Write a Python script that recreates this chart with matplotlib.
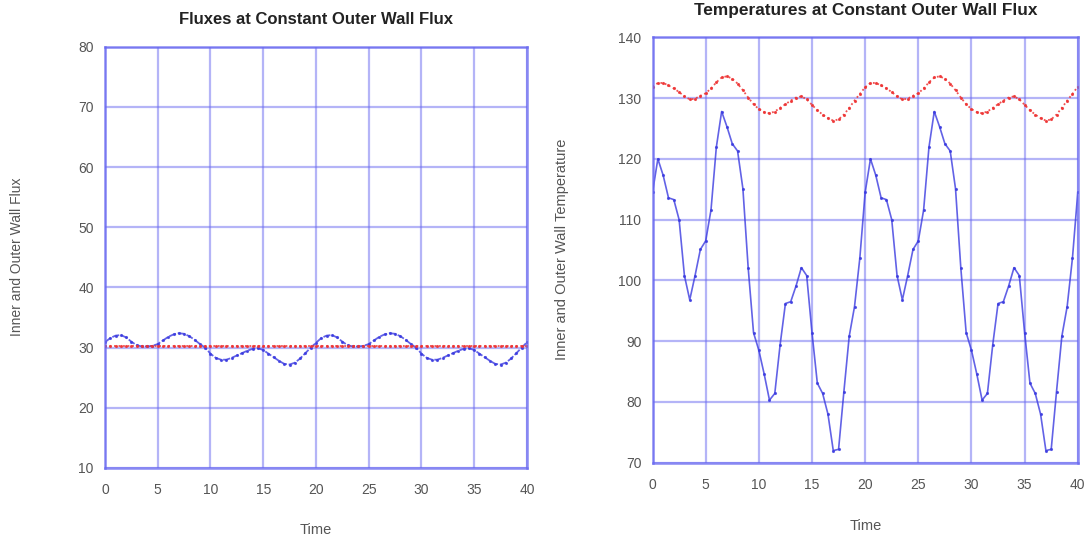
import matplotlib
matplotlib.use("Agg")
import matplotlib.pyplot as plt

# time grid (every half unit, 0..40)
time = [i * 0.5 for i in range(81)]

# left panel: inner wall flux (blue) and outer wall flux (red, constant)
inner_flux = [30.9, 31.6, 32.0, 32.1, 31.7, 31.0, 30.4, 30.2, 30.2, 30.3,
              30.6, 31.2, 31.8, 32.2, 32.4, 32.3, 31.9, 31.3, 30.6, 30.0,
              29.0, 28.3, 28.0, 28.0, 28.3, 28.7, 29.1, 29.5, 29.8, 29.9,
              29.6, 29.0, 28.4, 27.8, 27.3, 27.2, 27.5, 28.2, 29.1, 30.0,
              30.8, 31.6, 32.0, 32.1, 31.7, 31.0, 30.4, 30.2, 30.2, 30.3,
              30.6, 31.2, 31.8, 32.2, 32.4, 32.3, 31.9, 31.3, 30.6, 30.0,
              29.0, 28.3, 28.0, 28.0, 28.3, 28.7, 29.1, 29.5, 29.8, 29.9,
              29.6, 29.0, 28.4, 27.8, 27.3, 27.2, 27.5, 28.2, 29.1, 30.0,
              30.9]
outer_flux = [30.2] * 81

# right panel: inner wall temperature (blue) and outer wall temperature (red)
inner_temp = [114.5, 120.0, 117.3, 113.6, 113.3, 110.0, 100.8, 96.8, 100.8, 105.1,
              106.5, 111.6, 121.9, 127.8, 125.3, 122.5, 121.3, 115.1, 102.0, 91.4,
              88.5, 84.6, 80.3, 81.4, 89.4, 96.2, 96.5, 99.1, 102.1, 100.8,
              91.4, 83.1, 81.4, 78.0, 72.0, 72.2, 81.7, 90.8, 95.7, 103.7,
              114.5, 120.0, 117.3, 113.6, 113.3, 110.0, 100.8, 96.8, 100.8, 105.1,
              106.5, 111.6, 121.9, 127.8, 125.3, 122.5, 121.3, 115.1, 102.0, 91.4,
              88.5, 84.6, 80.3, 81.4, 89.4, 96.2, 96.5, 99.1, 102.1, 100.8,
              91.4, 83.1, 81.4, 78.0, 72.0, 72.2, 81.7, 90.8, 95.7, 103.7,
              114.5]
outer_temp = [131.9, 132.5, 132.5, 132.1, 131.6, 131.0, 130.3, 129.8, 129.9, 130.4,
              130.8, 131.6, 132.6, 133.4, 133.6, 133.2, 132.4, 131.3, 130.1, 129.0,
              128.2, 127.7, 127.5, 127.8, 128.4, 129.0, 129.6, 130.1, 130.3, 129.8,
              128.9, 128.0, 127.3, 126.7, 126.3, 126.5, 127.3, 128.4, 129.6, 130.7,
              131.8, 132.5, 132.5, 132.1, 131.6, 131.0, 130.3, 129.8, 129.9, 130.4,
              130.8, 131.6, 132.6, 133.4, 133.6, 133.2, 132.4, 131.3, 130.1, 129.0,
              128.2, 127.7, 127.5, 127.8, 128.4, 129.0, 129.6, 130.1, 130.3, 129.8,
              128.9, 128.0, 127.3, 126.7, 126.3, 126.5, 127.3, 128.4, 129.6, 130.7,
              131.9]

x_ticks = [0, 5, 10, 15, 20, 25, 30, 35, 40]

BLUE = "#3b3be0"
RED = "#ee3333"
GRID = "#6a6af0"
TICK = "#555555"

plt.rcParams["font.family"] = ["Liberation Sans", "DejaVu Sans"]

fig = plt.figure(figsize=(10.89, 5.45), dpi=100)
ax1 = fig.add_axes([0.0964, 0.1413, 0.3875, 0.7728])
ax2 = fig.add_axes([0.5992, 0.151, 0.3905, 0.7804])


def style(ax, ylim, yticks):
    ax.set_xlim(0, 40)
    ax.set_ylim(*ylim)
    ax.set_xticks(x_ticks)
    ax.set_yticks(yticks)
    ax.grid(True, color=GRID, alpha=0.5, linewidth=1.6)
    ax.set_axisbelow(True)
    for s in ax.spines.values():
        s.set_color(GRID)
        s.set_linewidth(1.8)
        s.set_alpha(0.8)
    ax.tick_params(axis="y", length=0, labelsize=10, labelcolor=TICK, pad=8)
    ax.tick_params(axis="x", length=0, labelsize=10, labelcolor=TICK, pad=11)


# left: fluxes
ax1.plot(time, inner_flux, color=BLUE, lw=1.3, ls=(0, (4, 1)), marker=".", ms=2.5, alpha=0.8)
ax1.plot(time, outer_flux, color=RED, lw=1.3, ls=(0, (1, 1.5)), marker=".", ms=2.5, alpha=0.85)
style(ax1, (10, 80), range(10, 81, 10))
fig.text(316 / 1089, 1 - 19.8 / 545, "Fluxes at Constant Outer Wall Flux",
         ha="center", va="center", fontsize=12, fontweight="bold", color="#222222")
fig.text(316 / 1089, 1 - 530 / 545, "Time", ha="center", va="center", fontsize=10.5, color=TICK)
fig.text(17 / 1089, 1 - 257 / 545, "Inner and Outer Wall Flux", ha="center", va="center",
         rotation=90, fontsize=10, color=TICK)

# right: temperatures
ax2.plot(time, inner_temp, color=BLUE, lw=1.2, marker=".", ms=2.5, alpha=0.8)
ax2.plot(time, outer_temp, color=RED, lw=1.3, ls=(0, (1, 1.5)), marker=".", ms=2.5, alpha=0.85)
style(ax2, (70, 140), range(70, 141, 10))
fig.text(866 / 1089, 1 - 10.5 / 545, "Temperatures at Constant Outer Wall Flux",
         ha="center", va="center", fontsize=12.4, fontweight="bold", color="#222222")
fig.text(866 / 1089, 1 - 526 / 545, "Time", ha="center", va="center", fontsize=10.5, color=TICK)
fig.text(562 / 1089, 1 - 249 / 545, "Inner and Outer Wall Temperature", ha="center", va="center",
         rotation=90, fontsize=10.5, color=TICK)

fig.savefig("out.png", dpi=100)
